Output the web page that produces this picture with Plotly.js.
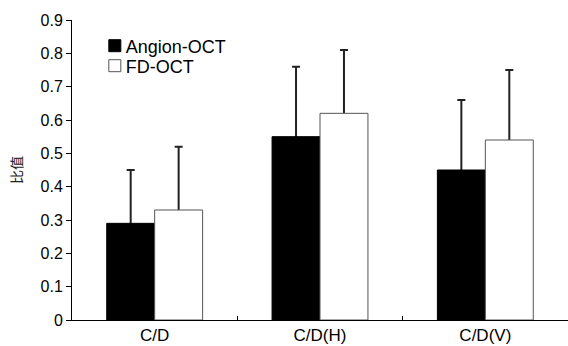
<!DOCTYPE html>
<html>
<head>
<meta charset="utf-8">
<script src="https://cdn.plot.ly/plotly-3.0.1.min.js"></script>
<style>html,body{margin:0;padding:0;background:#fff;}#chart{width:568px;height:346px;}</style>
</head>
<body>
<div id="chart"></div>
<script>
const categories = ["C/D", "C/D(H)", "C/D(V)"];
const angionValues = [0.29, 0.55, 0.45];
const angionErrors = [0.16, 0.21, 0.21];
const fdValues = [0.33, 0.62, 0.54];
const fdErrors = [0.19, 0.19, 0.21];
const yTickVals = [0, 0.1, 0.2, 0.3, 0.4, 0.5, 0.6, 0.7, 0.8, 0.9];
const yTickText = ["0", "0.1", "0.2", "0.3", "0.4", "0.5", "0.6", "0.7", "0.8", "0.9"];

// error bars drawn on a hidden bar trace beneath the visible bars,
// so the lower cap is hidden inside the bar
const errTrace = (vals, errs, group) => ({
  type: 'bar', x: categories, y: vals, offsetgroup: group, showlegend: false, hoverinfo: 'skip',
  marker: {color: 'rgba(0,0,0,0)', line: {width: 0}},
  error_y: {type: 'data', array: errs, symmetric: false, arrayminus: errs.map(() => 0.02),
    color: '#222', thickness: 2, width: 4}
});

const data = [
  errTrace(angionValues, angionErrors, 'a'),
  errTrace(fdValues, fdErrors, 'b'),
  {type: 'bar', name: 'Angion-OCT', x: categories, y: angionValues, offsetgroup: 'a',
   marker: {color: '#000', line: {color: '#000', width: 1}}},
  {type: 'bar', name: 'FD-OCT', x: categories, y: fdValues, offsetgroup: 'b',
   marker: {color: '#fff', line: {color: '#555', width: 1}}}
];

const layout = {
  width: 568, height: 346,
  margin: {l: 72, r: 0, t: 20, b: 26},
  paper_bgcolor: '#fff', plot_bgcolor: '#fff',
  font: {family: 'Liberation Sans, Arial, sans-serif', size: 16, color: '#000'},
  barmode: 'group', bargap: 0.42, bargroupgap: 0,
  showlegend: true,
  legend: {x: 0.046, y: 0.975, xanchor: 'left', yanchor: 'top', bgcolor: 'rgba(0,0,0,0)',
    font: {size: 18}, tracegroupgap: 0, itemwidth: 30},
  xaxis: {type: 'category', showline: true, linecolor: '#000', linewidth: 1,
    ticks: 'inside', tickson: 'boundaries', ticklen: 4, tickcolor: '#000',
    tickfont: {size: 17},
    showgrid: false, zeroline: false, fixedrange: true},
  yaxis: {range: [0, 0.9], tickvals: yTickVals, ticktext: yTickText,
    showline: true, linecolor: '#000', linewidth: 1, ticks: 'outside', ticklen: 5,
    tickcolor: '#000', showgrid: false, zeroline: false,
    title: {text: '比值', font: {family: 'Noto Sans CJK SC', size: 14, color: '#222'}, standoff: 14}}
};

Plotly.newPlot('chart', data, layout, {staticPlot: true}).then(() => {
  document.querySelectorAll('#chart .legendtext').forEach(t => t.setAttribute('x', 31));
  const items = document.querySelectorAll('#chart .legend .traces');
  if (items.length > 1) {
    const m = /translate\(\s*([-\d.]+)[ ,]+([-\d.]+)/.exec(items[0].getAttribute('transform') || '');
    if (m) {
      const x0 = parseFloat(m[1]), y0 = parseFloat(m[2]);
      items.forEach((it, i) => it.setAttribute('transform', `translate(${x0},${y0 + 20 * i})`));
    }
  }
});
</script>
</body>
</html>
